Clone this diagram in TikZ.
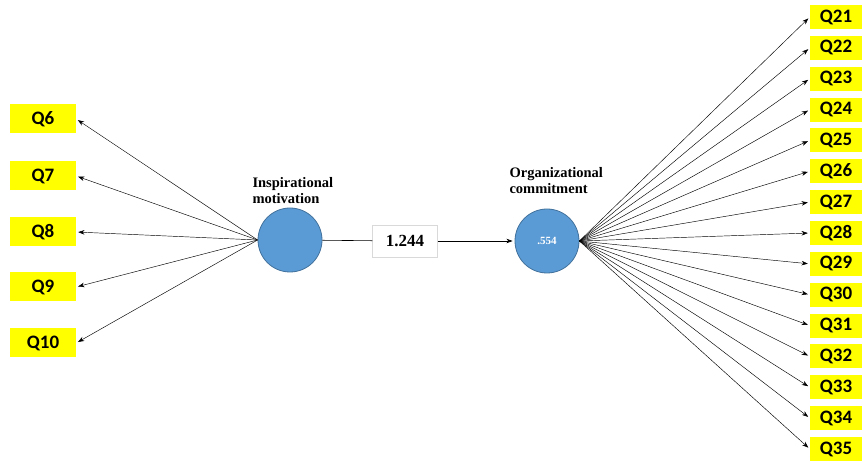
\documentclass[tikz,border=0pt]{standalone}
\usepackage{fontspec}
\setmainfont{Liberation Serif}
\newfontfamily\itemfont{Carlito}
\usepackage{xcolor}
\usetikzlibrary{arrows.meta}
\definecolor{latentblue}{HTML}{5B9BD5}
\definecolor{latentedge}{HTML}{41719C}
\definecolor{itemyellow}{HTML}{FFFF00}

\tikzset{
  item/.style={rectangle,fill=itemyellow,inner sep=0pt,font=\itemfont\bfseries\fontsize{19}{19}\selectfont},
  leftitem/.style={item,minimum width=66pt,minimum height=29pt},
  rightitem/.style={item,minimum width=52pt,minimum height=24pt},
  latent/.style={circle,draw=latentedge,fill=latentblue,line width=0.8pt,minimum size=64pt,inner sep=0pt},
  latentname/.style={align=left,anchor=west,font=\bfseries\fontsize{14.5}{16}\selectfont},
  coefbox/.style={rectangle,draw=black!15,fill=white,minimum width=65pt,minimum height=32pt,font=\bfseries\fontsize{17}{17}\selectfont},
  load/.style={-{Stealth[length=2.2mm,width=1.6mm]},line width=0.45pt,shorten >=2pt}
}

\begin{document}
\begin{tikzpicture}[x=1pt,y=-1pt]
  \useasboundingbox (0,0) rectangle (863,462);
  % latent variables
  \node[latent] (im) at (290,240) {};
  \node[latent] (oc) at (547,241) {\fontsize{11}{11}\selectfont\bfseries\color{white}.554};
  \node[latentname] (imname) at (249,191) {Inspirational\\motivation};
  \node[latentname] (ocname) at (506,181) {Organizational\\commitment};
  \node[coefbox] (coef) at (405,241) {1.244};
  % indicators of inspirational motivation
  \node[leftitem] (q6) at (43,119) {Q6};
  \node[leftitem] (q7) at (43,176) {Q7};
  \node[leftitem] (q8) at (43,232) {Q8};
  \node[leftitem] (q9) at (43,287) {Q9};
  \node[leftitem] (q10) at (43,343) {Q10};
  % indicators of organizational commitment
  \node[rightitem] (q21) at (836,17) {Q21};
  \node[rightitem] (q22) at (836,47.9) {Q22};
  \node[rightitem] (q23) at (836,78.7) {Q23};
  \node[rightitem] (q24) at (836,109.6) {Q24};
  \node[rightitem] (q25) at (836,140.4) {Q25};
  \node[rightitem] (q26) at (836,171.3) {Q26};
  \node[rightitem] (q27) at (836,202.1) {Q27};
  \node[rightitem] (q28) at (836,233) {Q28};
  \node[rightitem] (q29) at (836,263.9) {Q29};
  \node[rightitem] (q30) at (836,294.7) {Q30};
  \node[rightitem] (q31) at (836,325.6) {Q31};
  \node[rightitem] (q32) at (836,356.4) {Q32};
  \node[rightitem] (q33) at (836,387.3) {Q33};
  \node[rightitem] (q34) at (836,418.1) {Q34};
  \node[rightitem] (q35) at (836,449) {Q35};
  % structural path
  \draw[line width=0.6pt] (im) -- (coef);
  \draw[load,line width=0.6pt] (coef) -- (oc);
  % loadings
  \draw[load] (im.west) -- (q6.east);
  \draw[load] (im.west) -- (q7.east);
  \draw[load] (im.west) -- (q8.east);
  \draw[load] (im.west) -- (q9.east);
  \draw[load] (im.west) -- (q10.east);
  \draw[load] (oc.east) -- (q21.west);
  \draw[load] (oc.east) -- (q22.west);
  \draw[load] (oc.east) -- (q23.west);
  \draw[load] (oc.east) -- (q24.west);
  \draw[load] (oc.east) -- (q25.west);
  \draw[load] (oc.east) -- (q26.west);
  \draw[load] (oc.east) -- (q27.west);
  \draw[load] (oc.east) -- (q28.west);
  \draw[load] (oc.east) -- (q29.west);
  \draw[load] (oc.east) -- (q30.west);
  \draw[load] (oc.east) -- (q31.west);
  \draw[load] (oc.east) -- (q32.west);
  \draw[load] (oc.east) -- (q33.west);
  \draw[load] (oc.east) -- (q34.west);
  \draw[load] (oc.east) -- (q35.west);
\end{tikzpicture}
\end{document}
